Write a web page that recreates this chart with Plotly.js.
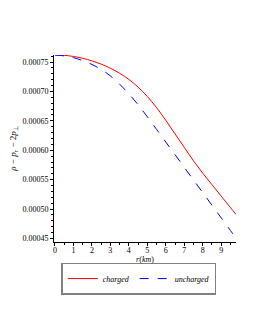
<!DOCTYPE html>
<html>
<head>
<meta charset="utf-8">
<script src="https://cdn.plot.ly/plotly-3.0.1.min.js"></script>
<style>html,body{margin:0;padding:0;background:#fff;}#chart{width:255px;height:330px;}</style>
</head>
<body>
<div id="chart"></div>
<script>
var r = [0, 0.5, 1, 1.5, 2, 2.5, 3, 3.5, 4, 4.5, 5, 5.5, 6, 6.5, 7, 7.5, 8, 8.5, 9, 9.5, 9.8];
var charged = [0.000762, 0.0007615, 0.0007595, 0.0007565, 0.000752, 0.0007465, 0.0007395, 0.000731, 0.0007205, 0.0007075, 0.0006915, 0.0006725, 0.000651, 0.000628, 0.000605, 0.000582, 0.000561, 0.0005415, 0.000522, 0.0005025, 0.000491];
var uncharged = [0.000762, 0.0007605, 0.0007575, 0.0007525, 0.000746, 0.0007375, 0.0007265, 0.0007125, 0.000696, 0.0006775, 0.000657, 0.0006355, 0.000614, 0.0005925, 0.000571, 0.0005495, 0.000528, 0.0005065, 0.000485, 0.0004635, 0.0004505];
var xTicks = [0, 1, 2, 3, 4, 5, 6, 7, 8, 9];
var yTicks = [0.00045, 0.00050, 0.00055, 0.00060, 0.00065, 0.00070, 0.00075];
var yTickText = ["0.00045", "0.00050", "0.00055", "0.00060", "0.00065", "0.00070", "0.00075"];

var fam = "Liberation Serif, Times New Roman, serif";
var font = {family: fam, size: 8, color: "#000000"};
var traces = [
  {x: r, y: charged, mode: "lines", name: "<i>charged</i>", line: {color: "#ff0000", width: 1, shape: "spline"}},
  {x: r, y: uncharged, mode: "lines", name: "<i>uncharged</i>", line: {color: "#0000ff", width: 1, dash: "dash", shape: "spline"}}
];
var layout = {
  width: 255, height: 330,
  margin: {l: 54, r: 19, t: 55, b: 88},
  paper_bgcolor: "#fff", plot_bgcolor: "#fff",
  font: font,
  showlegend: true,
  legend: {orientation: "h", x: 0.04, xanchor: "left", y: -0.11, yanchor: "top",
           bordercolor: "#808080", borderwidth: 1.5, font: {family: fam, size: 8, color: "#000000"},
           itemwidth: 30, tracegroupgap: 0},
  xaxis: {
    range: [-0.05, 9.8], tickvals: xTicks, ticktext: xTicks.map(String),
    ticks: "outside", ticklen: 3, tickwidth: 1, tickcolor: "#000",
    minor: {dtick: 0.5, tick0: 0, ticks: "outside", ticklen: 2, tickcolor: "#000"},
    showline: true, linecolor: "#000", linewidth: 1, showgrid: false, zeroline: false,
    tickfont: font, ticklabelstandoff: -3, automargin: true,
    title: {text: "<i>r</i>(<i>km</i>)", font: {family: fam, size: 8, color: "#000000"}, standoff: 1}
  },
  yaxis: {
    range: [0.000444, 0.000762], tickvals: yTicks, ticktext: yTickText,
    ticks: "outside", ticklen: 3, tickwidth: 1, tickcolor: "#000",
    minor: {dtick: 0.00001, tick0: 0, ticks: "outside", ticklen: 2, tickcolor: "#000"},
    showline: true, linecolor: "#000", linewidth: 1, showgrid: false, zeroline: false,
    tickfont: font,
    title: {text: "<i>ρ</i> − <i>p</i><sub><i>r</i></sub> − 2<i>p</i><sub>⊥</sub>", font: {family: fam, size: 9, color: "#000000"}, standoff: 4}
  }
};
Plotly.newPlot("chart", traces, layout, {displayModeBar: false, staticPlot: true});
</script>
</body>
</html>
